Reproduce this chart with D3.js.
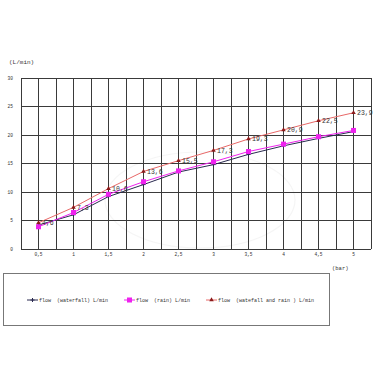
<!DOCTYPE html>
<html><head><meta charset="utf-8">
<script src="https://cdn.jsdelivr.net/npm/d3@7"></script>
<style>html,body{margin:0;padding:0;background:#fff;}svg{display:block;}</style>
</head><body>
<svg id="c" width="380" height="380"></svg>
<script>
const categories = ["0.5","1","1.5","2","2.5","3","3.5","4","4.5","5"];
const xTickLabels = ["0,5","1","1,5","2","2,5","3","3,5","4","4,5","5"];
const waterfall = [4.2, 6.0, 9.2, 11.3, 13.5, 14.8, 16.6, 18.1, 19.4, 20.6];
const rain = [3.9, 6.4, 9.6, 11.8, 13.7, 15.3, 17.1, 18.4, 19.7, 20.8];
const both = [4.6, 7.3, 10.6, 13.6, 15.5, 17.3, 19.3, 20.9, 22.5, 23.9];
const bothLabels = ["4,6","7,3","10,6","13,6","15,5","17,3","19,3","20,9","22,5","23,9"];
const yTicks = [0,5,10,15,20,25,30];
const seriesNames = ["flow\u00a0\u00a0(waterfall) L/min","flow\u00a0\u00a0(rain) L/min","flow\u00a0\u00a0(watefall and rain ) L/min"];

const svg = d3.select("#c");
const font = "'Liberation Mono','DejaVu Sans Mono',monospace";
const L = 21, R = 371, T = 78, B = 249;
const x = d3.scaleBand().domain(categories).range([L, R]);
const y = d3.scaleLinear().domain([0, 30]).range([B, T]);
const cx = d => x(d) + x.bandwidth() / 2;

// faint watermark ellipse
svg.append("ellipse").attr("cx", 200).attr("cy", 200).attr("rx", 95).attr("ry", 48)
  .attr("fill", "none").attr("stroke", "#999").attr("stroke-width", 1.2).attr("opacity", 0.1);

// gridlines
const g = svg.append("g");
g.selectAll("line.h").data(yTicks).join("line")
  .attr("x1", L).attr("x2", R).attr("y1", d => y(d)).attr("y2", d => y(d))
  .attr("stroke", "#3a3a3a").attr("stroke-width", 1).attr("shape-rendering", "crispEdges");
const vpos = [];
categories.forEach(c => { vpos.push(x(c)); vpos.push(cx(c)); });
vpos.push(R);
g.selectAll("line.v").data(vpos).join("line")
  .attr("x1", d => d).attr("x2", d => d).attr("y1", T).attr("y2", B)
  .attr("stroke", "#3a3a3a").attr("stroke-width", 1).attr("shape-rendering", "crispEdges");

// axis labels
const yAxis = d3.axisLeft(y).tickValues(yTicks).tickSize(0).tickPadding(8);
const ya = svg.append("g").attr("transform", `translate(${L},0)`).call(yAxis);
ya.select(".domain").remove();
ya.selectAll("text").attr("font-family", font).attr("font-size", 4.5).attr("fill", "#333");

const xAxis = d3.axisBottom(x).tickSize(0).tickPadding(4).tickFormat((d, i) => xTickLabels[i]);
const xa = svg.append("g").attr("transform", `translate(0,${B})`).call(xAxis);
xa.select(".domain").remove();
xa.selectAll("text").attr("font-family", font).attr("font-size", 4.5).attr("fill", "#333");

svg.append("text").attr("x", 9).attr("y", 64).attr("font-family", font).attr("font-size", 6).attr("fill", "#333").text("(L/min)");
svg.append("text").attr("x", 332).attr("y", 270).attr("font-family", font).attr("font-size", 5.5).attr("fill", "#333").text("(bar)");

// series
const line = d3.line().x((d, i) => cx(categories[i])).y(d => y(d));
const series = [
  {vals: waterfall, color: "#2a2a50", marker: "plus"},
  {vals: rain, color: "#ee22ee", marker: "square"},
  {vals: both, color: "#e86868", mcolor: "#8b1a1a", marker: "tri"}
];
series.forEach(s => {
  svg.append("path").datum(s.vals).attr("d", line).attr("fill", "none")
    .attr("stroke", s.color).attr("stroke-width", 1);
});
function drawMarker(sel, type, color, px, py) {
  if (type === "square") {
    sel.append("rect").attr("x", px - 2.5).attr("y", py - 2.5).attr("width", 5).attr("height", 5).attr("fill", color);
  } else if (type === "tri") {
    sel.append("path").attr("d", d3.symbol(d3.symbolTriangle, 9)()).attr("transform", `translate(${px},${py})`).attr("fill", color);
  } else {
    sel.append("path").attr("d", `M${px-2},${py}H${px+2}M${px},${py-2}V${py+2}`).attr("stroke", color).attr("stroke-width", 1);
  }
}
series.forEach(s => {
  s.vals.forEach((v, i) => drawMarker(svg, s.marker, s.mcolor || s.color, cx(categories[i]), y(v)));
});
// data labels
svg.selectAll("text.dl").data(both).join("text")
  .attr("x", (d, i) => cx(categories[i]) + 3.5).attr("y", d => y(d)).attr("dy", "0.35em")
  .attr("font-family", font).attr("font-size", 6.5).attr("fill", "#333")
  .text((d, i) => bothLabels[i]);

// legend
svg.append("rect").attr("x", 3.5).attr("y", 273.5).attr("width", 326).attr("height", 52)
  .attr("fill", "#fff").attr("stroke", "#777").attr("stroke-width", 1);
const legX = [27, 124, 206];
series.forEach((s, i) => {
  const lg = svg.append("g");
  lg.append("line").attr("x1", legX[i]).attr("x2", legX[i] + 11).attr("y1", 300).attr("y2", 300)
    .attr("stroke", s.color).attr("stroke-width", 1);
  drawMarker(lg, s.marker, s.mcolor || s.color, legX[i] + 5.5, 300);
  lg.append("text").attr("x", legX[i] + 12).attr("y", 301.5).attr("font-family", font)
    .attr("font-size", 5).attr("fill", "#333").text(seriesNames[i]);
});
</script>
</body></html>
